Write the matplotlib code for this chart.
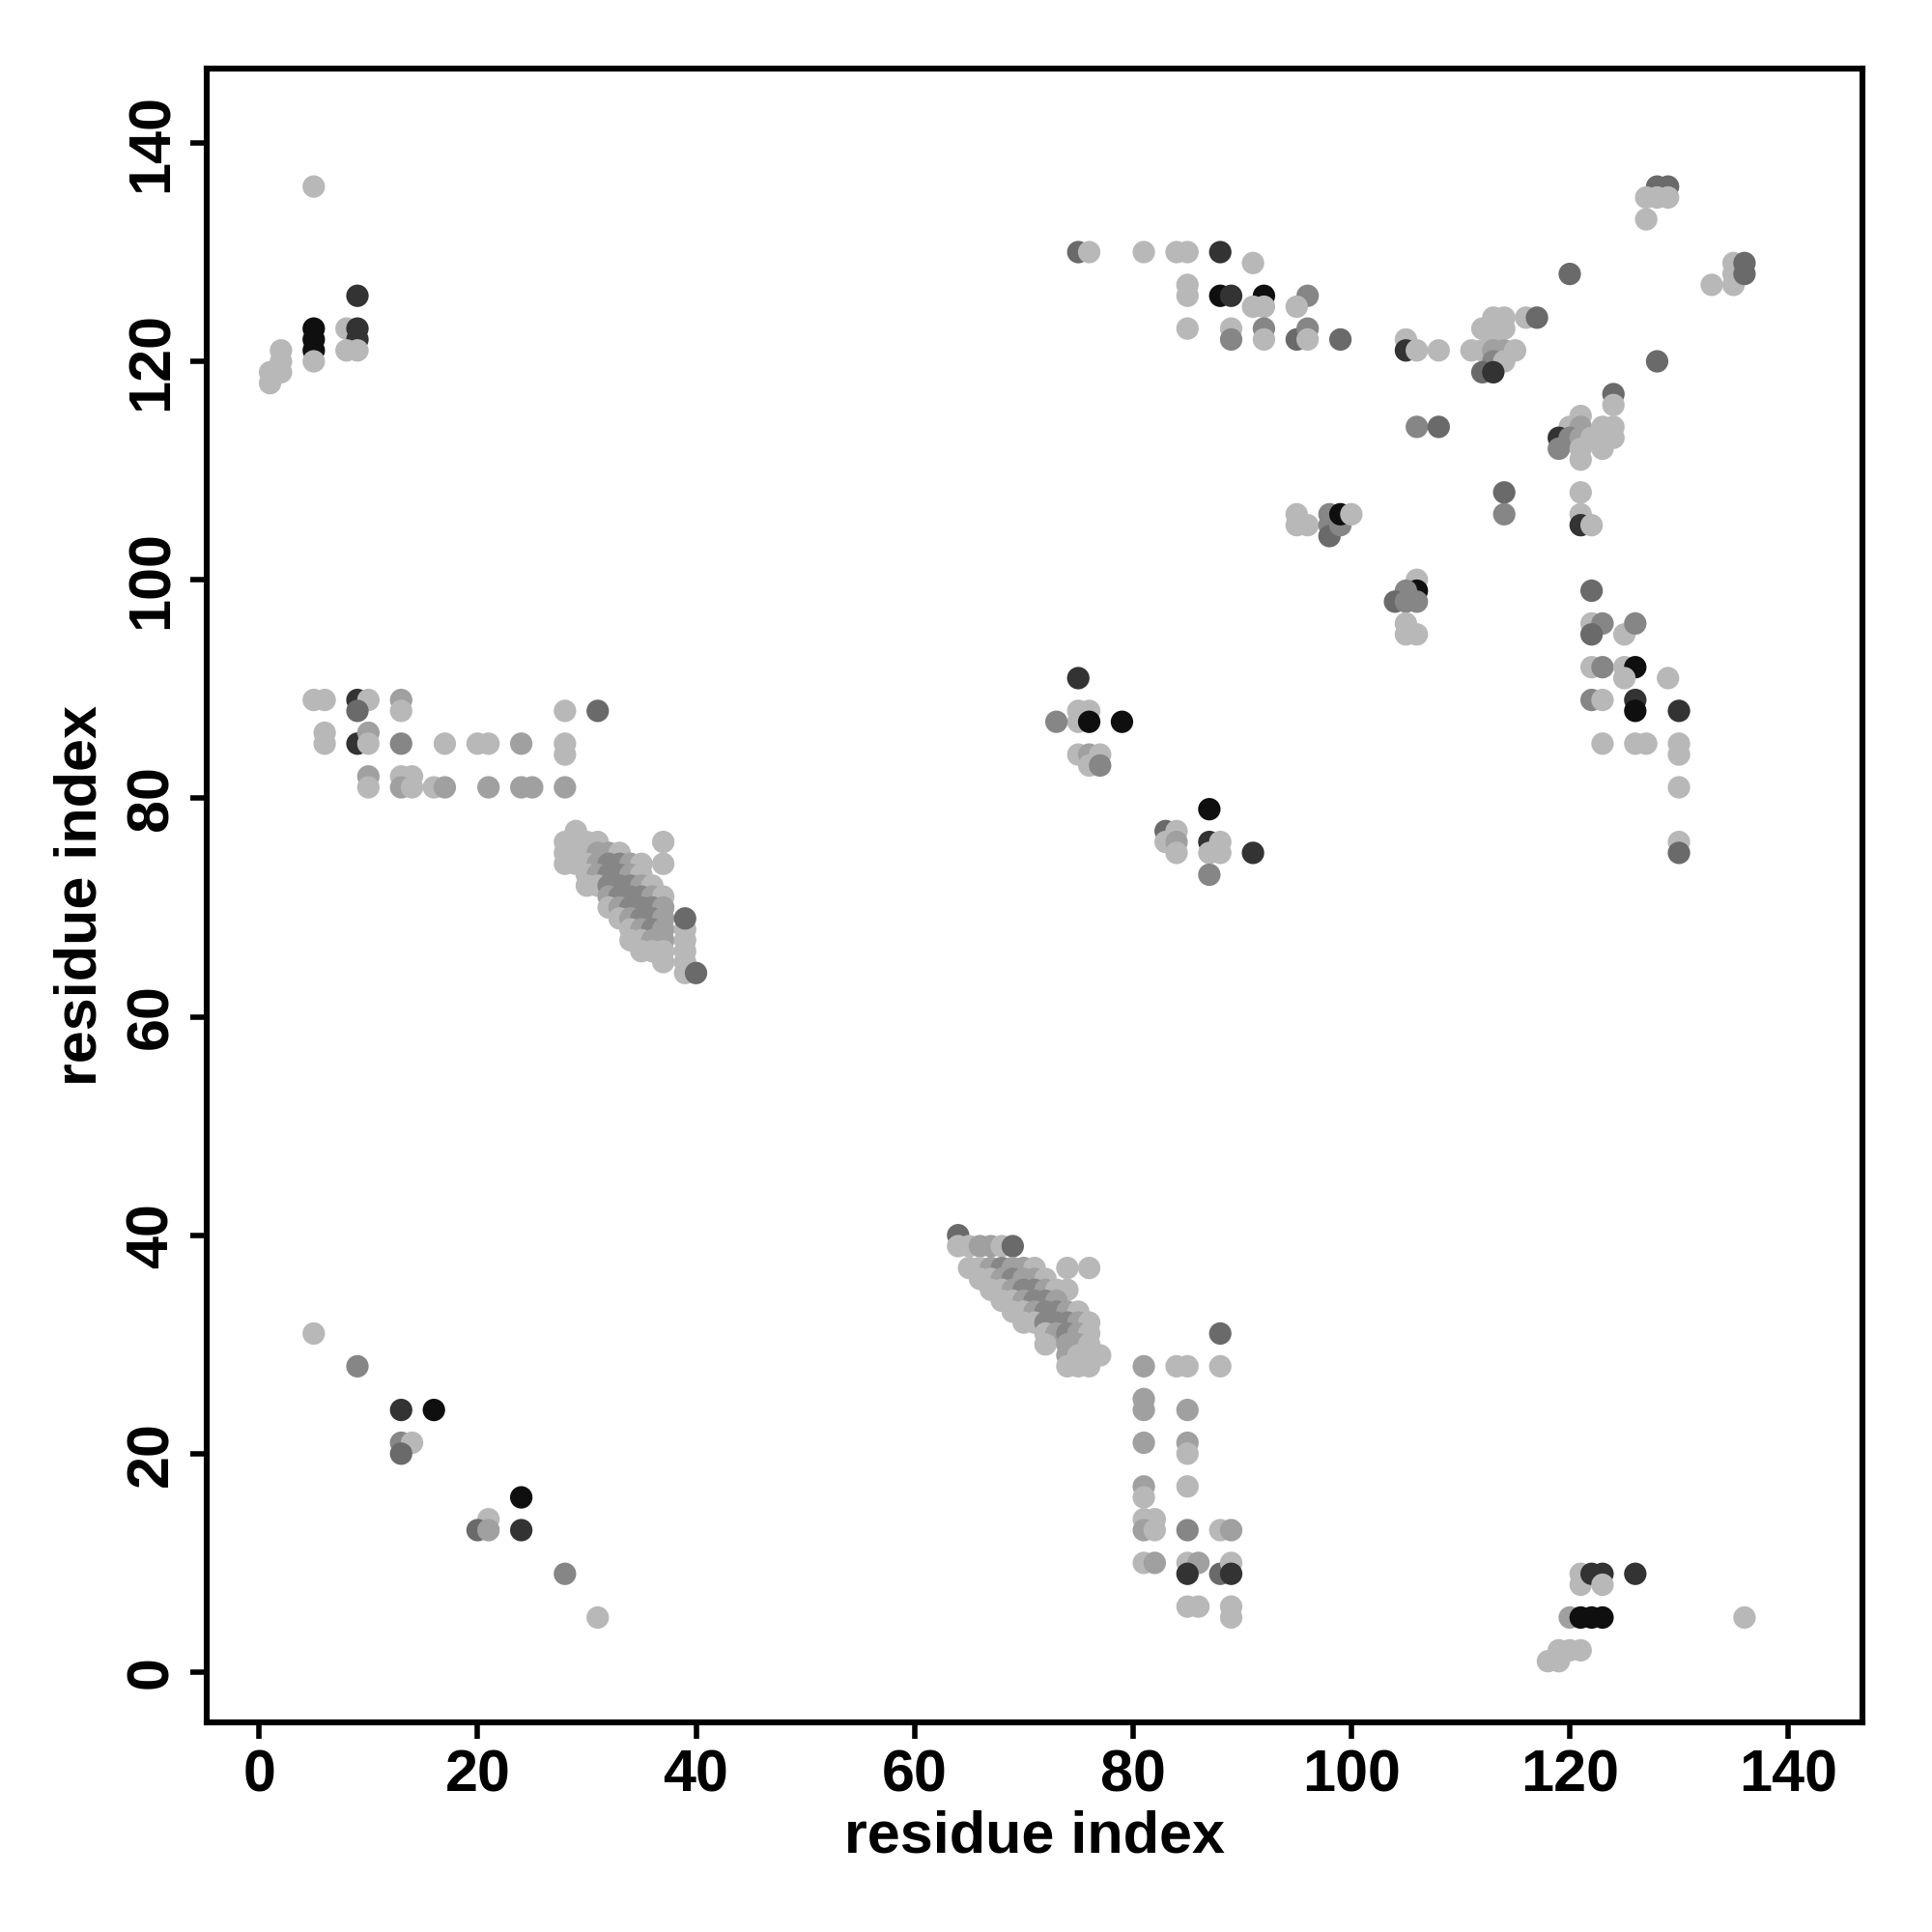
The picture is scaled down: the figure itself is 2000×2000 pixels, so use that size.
import numpy as np
import matplotlib.pyplot as plt

plt.rcParams['font.family'] = ['Liberation Sans', 'DejaVu Sans']
plt.rcParams['font.weight'] = 'bold'

# contact score levels (higher = darker)
L, M, m, D, K, B = 0.0, 0.13, 0.27, 0.42, 0.72, 0.92

# (residue i, residue j, score)
top_left = [(5, 136, L), (9, 126, K), (5, 123, B), (5, 122, B), (5, 121, B), (5, 120, L),
            (8, 123, L), (9, 123, K), (9, 122, K), (8, 121, L), (9, 121, L),
            (2, 121, L), (2, 120, L), (2, 119, L), (1, 119, L), (1, 118, L)]

top_mid = [(75, 130, D), (76, 130, L), (81, 130, L), (84, 130, L), (85, 130, L), (88, 130, K), (91, 129, L),
           (85, 127, L), (85, 126, L), (88, 126, B), (89, 126, K), (92, 126, B), (91, 125, L), (92, 125, L),
           (96, 126, m), (95, 125, L), (85, 123, L), (89, 123, L), (89, 122, m), (92, 123, m), (92, 122, L),
           (95, 122, D), (96, 123, m), (96, 122, L), (99, 122, D),
           (105, 122, L), (105, 121, K), (106, 121, L), (108, 121, L), (106, 114, m), (108, 114, D),
           (95, 106, L), (95, 105, L), (96, 105, L), (98, 106, m), (98, 105, m), (98, 104, D), (99, 105, m),
           (99, 106, B), (100, 106, L),
           (106, 100, L), (106, 99, B), (105, 99, m), (104, 98, D), (105, 98, m), (106, 98, m),
           (105, 96, L), (105, 95, L), (106, 95, L)]

top_right = [(128, 136, D), (129, 136, D), (127, 135, L), (128, 135, L), (129, 135, L), (127, 133, L),
             (135, 129, L), (135, 128, L), (135, 127, L), (136, 129, D), (136, 128, D), (133, 127, L),
             (120, 128, D),
             (113, 124, L), (114, 124, L), (116, 124, L), (117, 124, D),
             (112, 123, L), (113, 123, L), (114, 123, L), (113, 122, L),
             (111, 121, L), (112, 121, L), (113, 121, M), (114, 121, M), (115, 121, L),
             (113, 120, m), (114, 120, L), (112, 119, D), (113, 119, K),
             (128, 120, D), (124, 117, D), (124, 116, L),
             (121, 115, L), (120, 114, L), (121, 114, M), (123, 114, L), (124, 114, L),
             (119, 113, K), (120, 113, m), (121, 113, M), (122, 113, L), (123, 113, L), (124, 113, L),
             (119, 112, m), (121, 112, L), (123, 112, L), (121, 111, L),
             (114, 108, D), (114, 106, m), (121, 108, L), (121, 106, L), (121, 105, K), (122, 105, L)]

right_mid = [(122, 99, D), (122, 96, L), (123, 96, m), (122, 95, D), (125, 95, L), (126, 96, m),
             (122, 92, L), (123, 92, m), (125, 92, L), (126, 92, B), (125, 91, L), (129, 91, L),
             (122, 89, m), (123, 89, L), (126, 89, K), (126, 88, B), (130, 88, K),
             (123, 85, L), (126, 85, L), (127, 85, L), (130, 85, L), (130, 84, L), (130, 81, L),
             (130, 76, L), (130, 75, D)]

left_mid = [(5, 89, L), (6, 89, L), (9, 89, K), (10, 89, L), (9, 88, D), (13, 89, M), (13, 88, L),
            (28, 88, L), (31, 88, D),
            (6, 86, L), (6, 85, L), (9, 85, K), (10, 86, M), (10, 85, L), (13, 85, m), (17, 85, L),
            (20, 85, L), (21, 85, L), (24, 85, M), (28, 85, L), (28, 84, L),
            (10, 82, M), (10, 81, L), (13, 82, L), (14, 82, L), (13, 81, M), (14, 81, L), (16, 81, L),
            (17, 81, M), (21, 81, M), (24, 81, M), (25, 81, M), (28, 81, M)]

left_band = [(29, 77, L),
             (28, 76, L), (29, 76, L), (30, 76, L), (31, 76, L),
             (28, 75, L), (29, 75, L), (30, 75, L), (31, 75, M), (32, 75, M), (33, 75, L),
             (28, 74, L), (29, 74, L), (30, 74, L), (31, 74, M), (32, 74, m), (33, 74, m), (34, 74, M),
             (35, 74, L), (37, 74, L), (37, 76, L),
             (30, 73, L), (31, 73, M), (32, 73, m), (33, 73, m), (34, 73, M), (35, 73, L),
             (30, 72, L), (31, 72, L), (32, 72, m), (33, 72, m), (34, 72, m), (35, 72, M), (36, 72, L),
             (32, 71, M), (33, 71, m), (34, 71, m), (35, 71, m), (36, 71, M), (37, 71, L),
             (32, 70, L), (33, 70, M), (34, 70, m), (35, 70, m), (36, 70, m), (37, 70, M),
             (33, 69, L), (34, 69, M), (35, 69, m), (36, 69, m), (37, 69, M),
             (34, 68, L), (35, 68, M), (36, 68, m), (37, 68, M),
             (34, 67, L), (35, 67, L), (36, 67, M), (37, 67, M),
             (35, 66, L), (36, 66, L), (37, 66, L), (37, 65, L),
             (39, 68, L), (39, 67, L), (39, 66, L), (39, 65, L), (39, 64, L), (39, 69, D), (40, 64, D)]

center = [(75, 91, K), (75, 88, L), (76, 88, L), (75, 87, L), (76, 87, B), (73, 87, m), (79, 87, B),
          (75, 84, L), (76, 84, M), (77, 84, L), (76, 83, L), (77, 83, m),
          (87, 79, B), (83, 77, D), (84, 77, L), (83, 76, L), (84, 76, M), (84, 75, L),
          (87, 76, K), (88, 76, L), (87, 75, L), (88, 75, L), (91, 75, K), (87, 73, m)]

bottom_left = [(5, 31, L), (9, 28, m), (13, 24, K), (16, 24, B), (13, 21, m), (14, 21, L), (13, 20, D),
               (24, 16, B), (21, 14, L), (20, 13, D), (21, 13, M), (24, 13, K), (28, 9, m), (31, 5, L)]

mid_band = [(64, 40, D),
            (64, 39, L), (65, 39, L), (66, 39, M), (67, 39, M), (68, 39, L), (69, 39, D),
            (65, 37, L), (66, 37, L), (67, 37, M), (68, 37, m), (69, 37, M), (70, 37, M), (71, 37, L),
            (74, 37, L), (76, 37, L),
            (66, 36, L), (67, 36, L), (68, 36, M), (69, 36, m), (70, 36, M), (71, 36, M), (72, 36, L),
            (67, 35, L), (68, 35, L), (69, 35, M), (70, 35, m), (71, 35, m), (72, 35, M), (73, 35, L), (74, 35, L),
            (68, 34, L), (69, 34, L), (70, 34, M), (71, 34, m), (72, 34, m), (73, 34, M),
            (69, 33, L), (70, 33, L), (71, 33, M), (72, 33, m), (73, 33, m), (74, 33, M), (75, 33, L),
            (70, 32, L), (71, 32, L), (72, 32, m), (73, 32, m), (74, 32, m), (75, 32, M), (76, 32, L),
            (72, 31, L), (73, 31, M), (74, 31, m), (75, 31, M), (76, 31, L),
            (72, 30, L), (74, 30, M), (75, 30, M), (76, 30, L),
            (74, 29, M), (75, 29, L), (76, 29, L), (77, 29, L),
            (74, 28, L), (75, 28, L), (76, 28, L)]

bottom_mid = [(88, 31, D), (81, 28, M), (84, 28, L), (85, 28, L), (88, 28, L),
              (81, 25, M), (81, 24, M), (85, 24, M), (81, 21, M), (85, 21, M), (85, 20, L),
              (81, 17, M), (81, 16, L), (85, 17, L),
              (81, 14, L), (82, 14, L), (81, 13, M), (82, 13, L), (85, 13, m), (88, 13, L), (89, 13, M),
              (81, 10, L), (82, 10, M), (85, 10, L), (86, 10, M), (85, 9, K), (88, 9, D), (89, 10, L),
              (89, 9, K), (85, 6, L), (86, 6, L), (89, 6, L), (89, 5, L)]

bottom_right = [(121, 9, L), (121, 8, L), (122, 9, K), (123, 9, K), (123, 8, L), (126, 9, K),
                (120, 5, M), (121, 5, B), (122, 5, B), (123, 5, B), (136, 5, L),
                (119, 2, L), (120, 2, L), (121, 2, L), (118, 1, L), (119, 1, L)]

contacts = (top_left + top_mid + top_right + right_mid + left_mid + left_band + center
            + bottom_left + mid_band + bottom_mid + bottom_right)
ri = np.array([c[0] for c in contacts])
rj = np.array([c[1] for c in contacts])
score = np.array([c[2] for c in contacts])
gray = 0.72 * (1 - score)

fig = plt.figure(figsize=(10, 10), dpi=200)
ax = fig.add_axes([0.107, 0.1085, 0.857, 0.856])
ax.scatter(ri, rj, c=[str(g) for g in gray], s=70, linewidths=0)

ax.set_xlim(-4.8, 146.8)
ax.set_ylim(-4.6, 146.8)
ax.set_xticks(range(0, 141, 20))
ax.set_yticks(range(0, 141, 20))
for s in ax.spines.values():
    s.set_linewidth(2.2)
ax.tick_params(direction='out', length=6, width=2, labelsize=22, pad=4)
for lab in ax.get_yticklabels():
    lab.set_rotation(90)
    lab.set_va('center')
ax.set_xlabel('residue index', fontsize=22, fontweight='bold', labelpad=2)
ax.set_ylabel('residue index', fontsize=22, fontweight='bold', labelpad=6)

fig.savefig('out.png', dpi=200)
